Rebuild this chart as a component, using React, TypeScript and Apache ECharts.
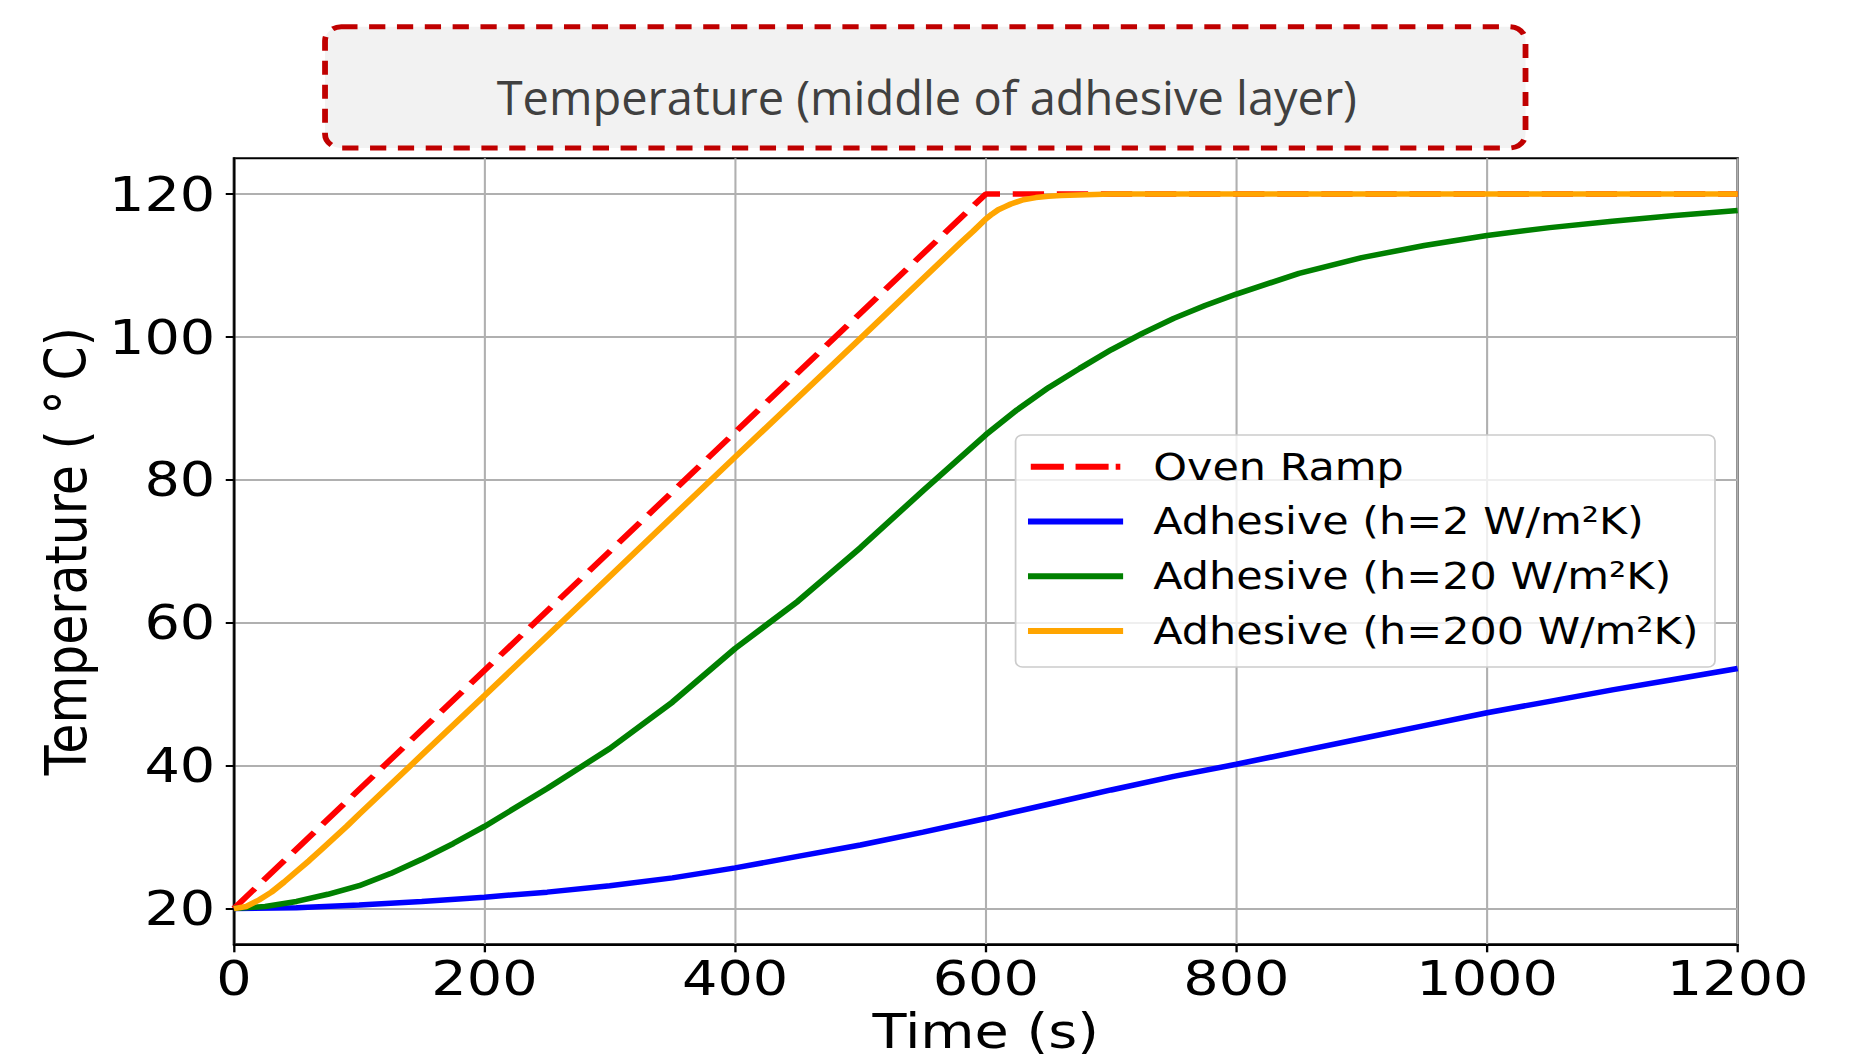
import React, { useEffect, useRef } from 'react';
import * as echarts from 'echarts';

// The original matplotlib figure was pasted horizontally stretched.
const STRETCH = 1.16;
const W = 1850 / STRETCH;
const H = 1061;

const titleText = 'Temperature (middle of adhesive layer)';
const xAxisName = 'Time (s)';
const yAxisName = 'Temperature ( °\u2009C)';
const yTickValues = [20, 40, 60, 80, 100, 120];

const seriesNames = [
  'Oven Ramp',
  'Adhesive (h=2 W/m²K)',
  'Adhesive (h=20 W/m²K)',
  'Adhesive (h=200 W/m²K)',
];

const ovenTimes = [0, 600, 1200];
const ovenTemps = [20, 120, 120];

const h2Times = [0, 50, 100, 150, 200, 250, 300, 350, 400, 450, 500, 550, 600, 650, 700, 750, 800, 850, 900, 950, 1000, 1050, 1100, 1150, 1200];
const h2Temps = [20, 20.1, 20.5, 21.0, 21.6, 22.3, 23.2, 24.3, 25.7, 27.3, 28.9, 30.7, 32.6, 34.6, 36.6, 38.5, 40.2, 42.0, 43.8, 45.6, 47.4, 49.0, 50.6, 52.1, 53.6];

const h20Times = [0, 25, 50, 75, 100, 125, 150, 175, 200, 250, 300, 350, 400, 450, 500, 550, 600, 625, 650, 675, 700, 725, 750, 775, 800, 850, 900, 950, 1000, 1050, 1100, 1150, 1200];
const h20Temps = [20, 20.3, 21.0, 22.0, 23.2, 24.9, 26.9, 29.1, 31.5, 36.8, 42.4, 48.9, 56.4, 63.0, 70.5, 78.5, 86.3, 89.8, 92.9, 95.6, 98.2, 100.5, 102.6, 104.4, 106.0, 108.9, 111.1, 112.8, 114.2, 115.3, 116.2, 117.0, 117.7];

const h200Times = [0, 10, 20, 30, 40, 50, 60, 70, 80, 90, 100, 150, 200, 300, 400, 500, 580, 590, 600, 605, 610, 615, 620, 630, 640, 650, 660, 680, 700, 750, 800, 1000, 1200];
const h200Temps = [20, 20.3, 21.2, 22.3, 23.7, 25.2, 26.7, 28.3, 29.9, 31.5, 33.2, 41.5, 49.8, 66.5, 83.2, 99.8, 113.2, 114.8, 116.5, 117.2, 117.8, 118.2, 118.6, 119.2, 119.5, 119.7, 119.8, 119.9, 120, 120, 120, 120, 120];

const seriesColors = ['#ff0000', '#0000ff', '#008000', '#ffa500'];

const legendIcons = [
  'path://M0,0H28.5V6H0Z M38.6,0H67.1V6H38.6Z M73.2,0H77.2V6H73.2Z',
  'rect',
  'rect',
  'rect',
];

const pairs = (xs: number[], ys: number[]) => xs.map((x, i) => [x, ys[i]]);

const FONT = 'DejaVu Sans';

function buildOption() {
  const datasets = [
    pairs(ovenTimes, ovenTemps),
    pairs(h2Times, h2Temps),
    pairs(h20Times, h20Temps),
    pairs(h200Times, h200Temps),
  ];
  return {
    animation: false,
    backgroundColor: '#ffffff',
    textStyle: { fontFamily: FONT },
    grid: {
      left: 201.6,
      top: 158.3,
      width: 1296.4,
      height: 786,
      show: true,
      borderColor: '#000000',
      borderWidth: 2,
      backgroundColor: 'transparent',
      containLabel: false,
      outerBoundsMode: 'none',
    },
    xAxis: {
      type: 'value',
      min: 0,
      max: 1200,
      interval: 200,
      name: xAxisName,
      nameLocation: 'middle',
      nameGap: 63,
      nameTextStyle: { fontSize: 48, lineHeight: 44, color: '#000000', fontFamily: FONT },
      axisLine: { show: true, onZero: false, lineStyle: { color: '#000000', width: 2 } },
      axisTick: { show: true, length: 8, lineStyle: { color: '#000000', width: 2 } },
      axisLabel: {
        fontSize: 48,
        color: '#000000',
        margin: 10,
        fontFamily: FONT,
        formatter: (v: number) => String(v),
      },
      splitLine: { show: true, lineStyle: { color: '#b0b0b0', width: 1.8 } },
    },
    yAxis: {
      type: 'value',
      min: 15,
      max: 125,
      name: yAxisName,
      nameLocation: 'middle',
      nameGap: 120,
      nameRotate: 90,
      nameTextStyle: { fontSize: 49, color: '#000000', fontFamily: FONT },
      axisLine: { show: true, onZero: false, lineStyle: { color: '#000000', width: 2 } },
      axisTick: { show: true, length: 7, customValues: yTickValues, lineStyle: { color: '#000000', width: 2 } },
      axisLabel: {
        fontSize: 48,
        color: '#000000',
        margin: 16,
        fontFamily: FONT,
        customValues: yTickValues,
        formatter: (v: number) => String(v),
      },
      splitLine: { show: true, lineStyle: { color: '#b0b0b0', width: 2 } },
    },
    legend: {
      orient: 'vertical',
      left: 875.5,
      top: 435,
      itemWidth: 82,
      itemHeight: 6,
      itemGap: 14.8,
      padding: [11.7, 14, 16, 10.7],
      backgroundColor: 'rgba(255,255,255,0.8)',
      borderColor: '#cccccc',
      borderWidth: 1.5,
      borderRadius: 6,
      textStyle: { fontFamily: FONT, fontSize: 37, color: '#000000', lineHeight: 40, padding: [0, 0, 0, 21] },
      data: seriesNames.map((name, i) => ({ name, icon: legendIcons[i] })),
    },
    graphic: [
      {
        type: 'rect',
        shape: { x: 280.2, y: 26.7, width: 1034.9, height: 121.3, r: 14 },
        style: { fill: '#f2f2f2', stroke: '#c00000', lineWidth: 5, lineDash: [14, 10] },
        z: 10,
      },
      {
        type: 'text',
        x: 799,
        y: 97,
        scaleX: 1 / STRETCH,
        style: {
          text: titleText,
          fontFamily: 'Open Sans',
          fontSize: 47,
          fill: '#404040',
          align: 'center',
          verticalAlign: 'middle',
          textAlign: 'center',
          textVerticalAlign: 'middle',
        },
        z: 11,
      },
    ],
    series: seriesNames.map((name, i) => ({
      name,
      type: 'line',
      data: datasets[i],
      showSymbol: false,
      symbol: 'none',
      smooth: false,
      color: seriesColors[i],
      itemStyle: { color: seriesColors[i] },
      lineStyle: i === 0
        ? { color: seriesColors[i], width: 5.5, type: [27, 11] }
        : { color: seriesColors[i], width: 5.5 },
      z: 2 + i,
    })),
  };
}

export default function App() {
  const ref = useRef<HTMLDivElement>(null);
  useEffect(() => {
    if (!ref.current) return;
    const chart = echarts.init(ref.current, null, { renderer: 'svg' });
    chart.setOption(buildOption() as any);
    return () => chart.dispose();
  }, []);
  return (
    <div
      ref={ref}
      style={{
        position: 'absolute',
        left: 0,
        top: 0,
        width: W,
        height: H,
        transform: `scaleX(${STRETCH})`,
        transformOrigin: '0 0',
      }}
    />
  );
}
